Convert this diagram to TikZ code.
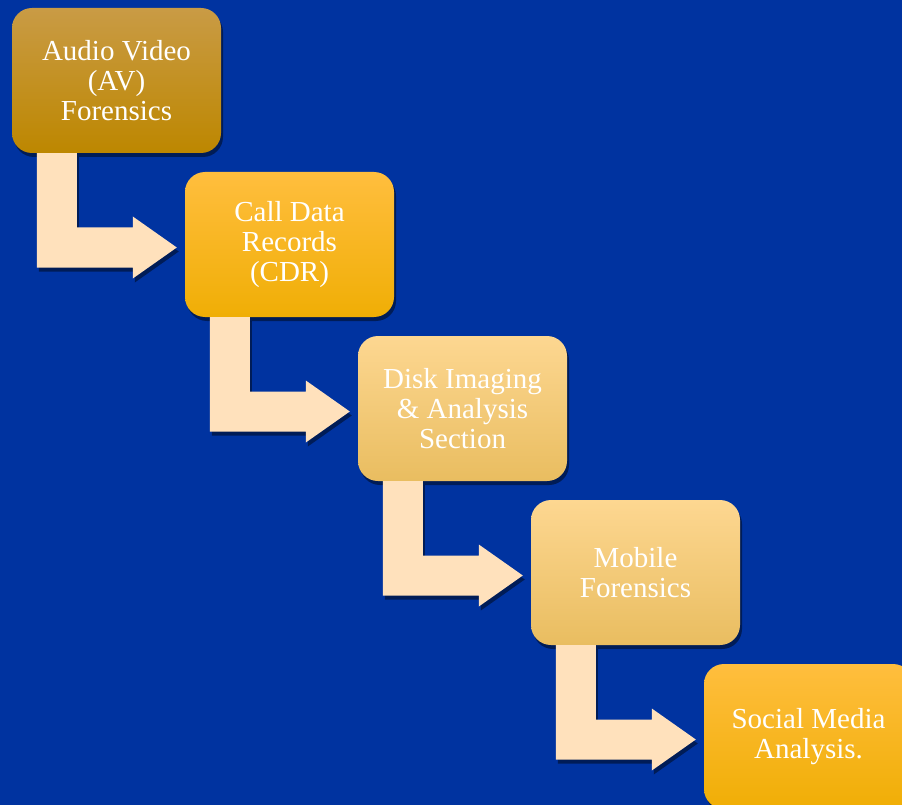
\documentclass[tikz,border=0pt]{standalone}
\usepackage{fontspec}
\setmainfont{Liberation Serif}
\usetikzlibrary{calc,shadows}
\definecolor{bgblue}{HTML}{0033A0}
\definecolor{arrowfill}{HTML}{FFE1BC}
\definecolor{goldtop}{HTML}{C99B45}
\definecolor{goldbot}{HTML}{BD8700}
\definecolor{ambertop}{HTML}{FFBE3E}
\definecolor{amberbot}{HTML}{F0AE05}
\definecolor{sandtop}{HTML}{FDD791}
\definecolor{sandbot}{HTML}{E9BD60}
\tikzset{
  stage/.style  = {rectangle, rounded corners=20pt, minimum width=209pt,
                   minimum height=145pt, inner sep=2pt, align=center,
                   text=white, font=\fontsize{29}{30}\selectfont,
                   drop shadow={shadow xshift=2pt, shadow yshift=-4pt,
                                opacity=.45, fill=black}},
  bent/.style   = {fill=arrowfill,
                   drop shadow={shadow xshift=2pt, shadow yshift=-4pt,
                                opacity=.45, fill=black}},
}

\begin{document}
\begin{tikzpicture}[x=1pt,y=-1pt]
  \useasboundingbox (0,0) rectangle (902,805);
  \clip (0,0) rectangle (902,805);
  \fill[bgblue] (0,0) rectangle (902,805);
  \node[stage, top color=goldtop, bottom color=goldbot] (av) at (116.5,80.5)
    {Audio Video\\(AV)\\Forensics};
  \node[stage, top color=ambertop, bottom color=amberbot] (cdr) at (289.5,244.5)
    {Call Data\\Records\\(CDR)};
  \node[stage, top color=sandtop, bottom color=sandbot] (disk) at (462.5,408.5)
    {Disk Imaging\\\& Analysis\\Section};
  \node[stage, top color=sandtop, bottom color=sandbot] (mobile) at (635.5,572.5)
    {Mobile\\Forensics};
  \node[stage, top color=ambertop, bottom color=amberbot] (social) at (808.5,736.5)
    {Social Media\\Analysis.};
  % bent arrows: down out of one box, right into the next
  \foreach \a/\b in {av/cdr, cdr/disk, disk/mobile, mobile/social}{
    \coordinate (s) at ($(\a.south west)+(25,0)$);
    \coordinate (tip) at ($(\b.west)+(-8,3)$);
    \path[bent] (s) -- ++(40,0) |- ($(tip)+(-44,-20)$) -- ++(0,-11) -- (tip)
      -- ($(tip)+(-44,31)$) -- ++(0,-11) -| (s) -- cycle;
  }
\end{tikzpicture}
\end{document}
